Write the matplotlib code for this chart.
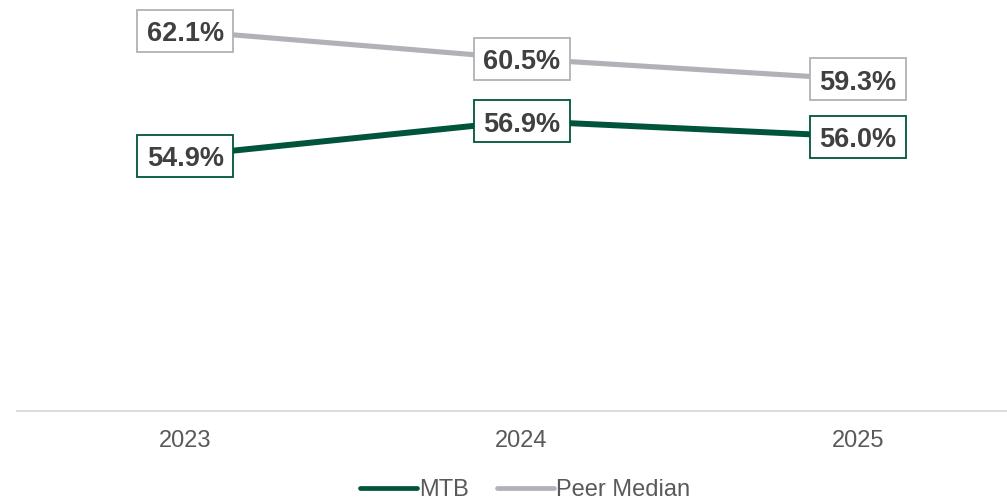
import matplotlib.pyplot as plt
from matplotlib.patches import Rectangle
from matplotlib.transforms import ScaledTranslation

plt.rcParams['font.family'] = ['Liberation Sans', 'DejaVu Sans']

years = ['2023', '2024', '2025']
mtb = [54.9, 56.9, 56.0]
peer_median = [62.1, 60.5, 59.3]

GREEN = '#00543C'
GREY = '#B2B1B8'
LABEL = '#404040'

fig = plt.figure(figsize=(10.07, 5.0), dpi=100)
ax = fig.add_axes([17 / 1007, 89 / 500, 1009 / 1007, 413 / 500])

x = list(range(len(years)))
ax.plot(x, mtb, color=GREEN, lw=4.3, solid_capstyle='butt', label='MTB', zorder=2)
ax.plot(x, peer_median, color=GREY, lw=3.7, solid_capstyle='butt', label='Peer Median', zorder=2)

# value boxes sitting on each point (box size in inches around the point)
for series, col in ((mtb, GREEN), (peer_median, GREY)):
    for xi, v in zip(x, series):
        anchor = fig.dpi_scale_trans + ScaledTranslation(xi, v, ax.transData)
        ax.add_patch(Rectangle((-0.48, -0.21), 0.96, 0.42, transform=anchor,
                               fc='white', ec=col, lw=1.3, zorder=3))
        ax.annotate(f'{v:.1f}%', (xi, v), xytext=(0, -7.6), textcoords='offset points',
                    ha='center', va='baseline', fontsize=19.5, fontweight='bold',
                    color=LABEL, zorder=4)

ax.set_xlim(-0.5, 2.5)
ax.set_ylim(40.15, 64)
ax.set_xticks(x)
ax.set_xticklabels(years, fontsize=17, color='#595959')
ax.tick_params(axis='x', length=0, pad=14)
ax.set_yticks([])
for side in ('top', 'left', 'right'):
    ax.spines[side].set_visible(False)
ax.spines['bottom'].set_color('#D9D9D9')
ax.spines['bottom'].set_linewidth(1.3)

leg = fig.legend(loc='center', bbox_to_anchor=(525 / 1007, 1 - 490 / 500), ncol=2,
                 frameon=False, fontsize=17, handlelength=2.4, handletextpad=0.1,
                 columnspacing=1.2)
for t in leg.get_texts():
    t.set_color('#595959')
for h in leg.get_lines():
    h.set_solid_capstyle('round')
    h.set_linewidth(3.4)

fig.savefig('out.png', dpi=100)
